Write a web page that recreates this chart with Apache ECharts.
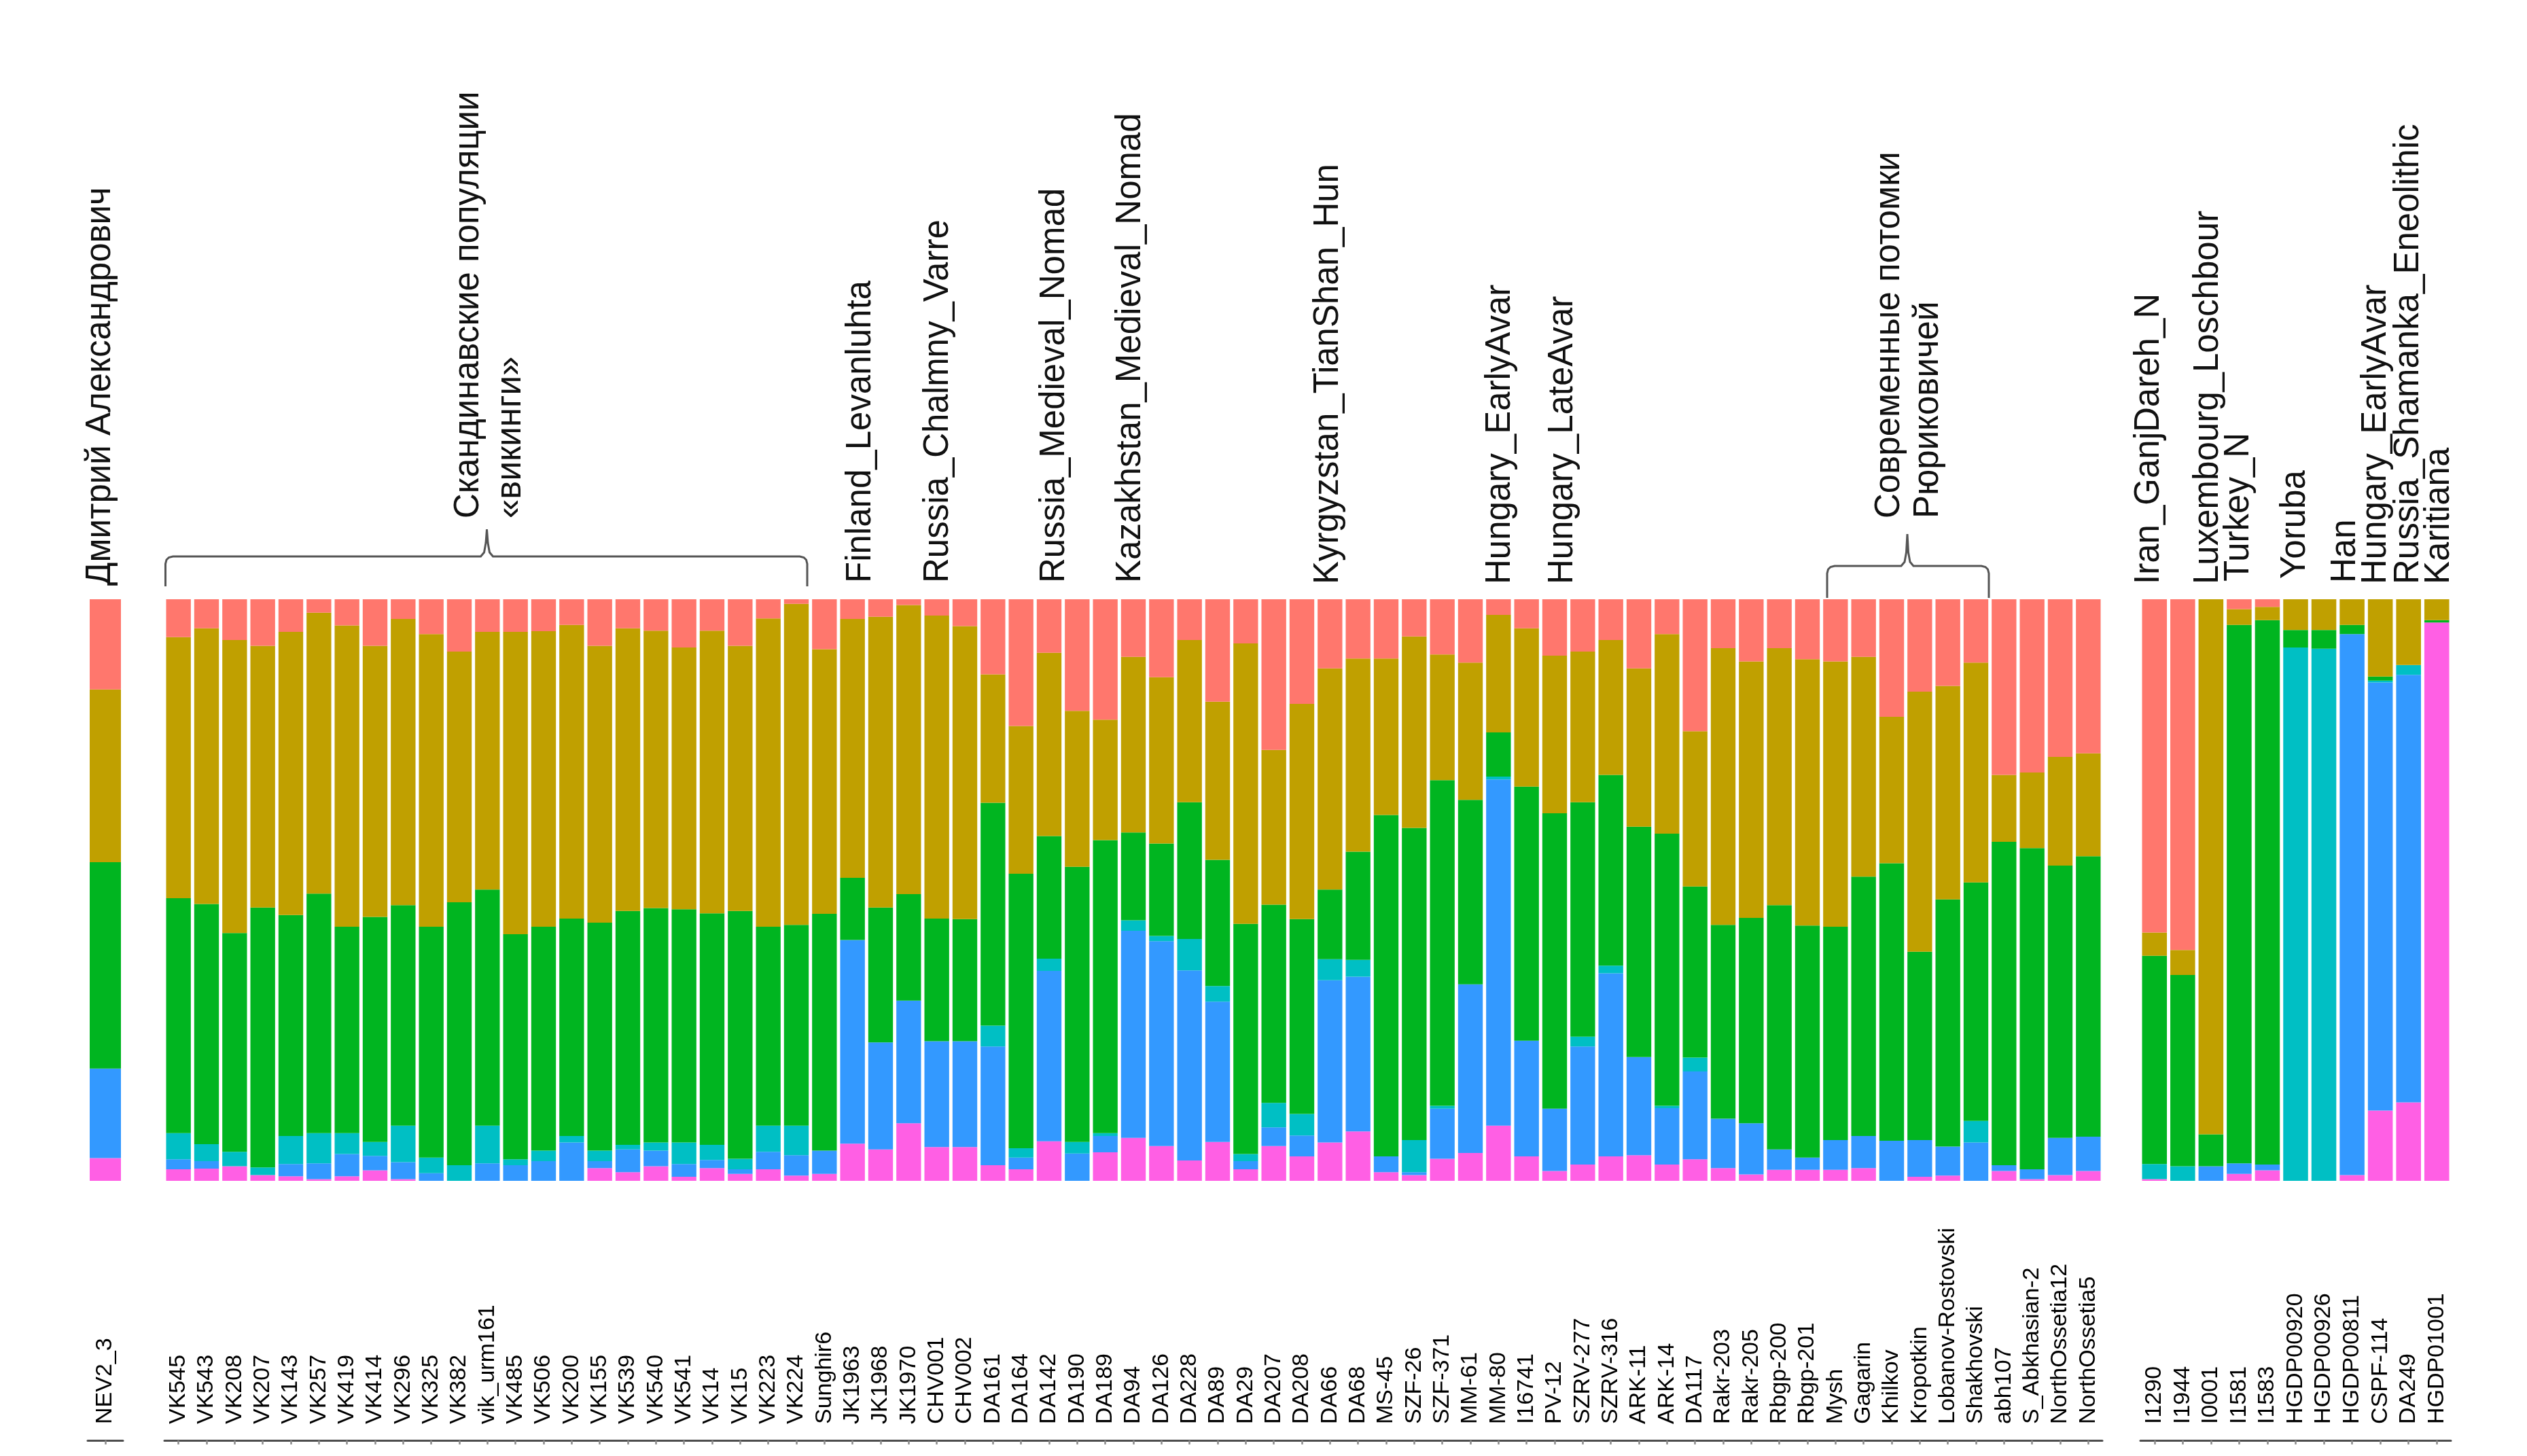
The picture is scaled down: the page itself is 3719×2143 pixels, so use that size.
<!DOCTYPE html>
<html><head><meta charset="utf-8">
<script src="https://cdn.jsdelivr.net/npm/echarts@6/dist/echarts.min.js"></script>
<style>html,body{margin:0;padding:0;background:#fff}#c{width:3719px;height:2143px}</style>
</head><body><div id="c"></div>
<script>
// ---- categories ----
var nevNames = ['NEV2_3'];
var mainNames = ['VK545','VK543','VK208','VK207','VK143','VK257','VK419','VK414','VK296','VK325','VK382','vik_urm161','VK485','VK506','VK200','VK155','VK539','VK540','VK541','VK14','VK15','VK223','VK224','Sunghir6','JK1963','JK1968','JK1970','CHV001','CHV002','DA161','DA164','DA142','DA190','DA189','DA94','DA126','DA228','DA89','DA29','DA207','DA208','DA66','DA68','MS-45','SZF-26','SZF-371','MM-61','MM-80','I16741','PV-12','SZRV-277','SZRV-316','ARK-11','ARK-14','DA117','Rakr-203','Rakr-205','Rbgp-200','Rbgp-201','Mysh','Gagarin','Khilkov','Kropotkin','Lobanov-Rostovski','Shakhovski','abh107','S_Abkhasian-2','NorthOssetia12','NorthOssetia5'];
var refNames = ['I1290','I1944','I0001','I1581','I1583','HGDP00920','HGDP00926','HGDP00811','CSPF-114','DA249','HGDP01001'];

// ---- component values (bottom to top: pink, blue, cyan, green, olive, salmon) ----
var nevPink = [0.039], nevBlue = [0.154], nevCyan = [0], nevGreen = [0.355], nevOlive = [0.297], nevSalmon = [0.155];

var mainPink = [.020,.021,.025,.010,.008,.003,.008,.018,.003,0,0,0,0,0,0,.022,.015,.025,.007,.022,.012,.020,.009,.012,.064,.054,.099,.058,.058,.027,.020,.068,0,.049,.074,.060,.035,.067,.020,.060,.042,.066,.085,.015,.010,.038,.048,.095,.042,.017,.028,.042,.044,.028,.037,.022,.011,.019,.019,.019,.022,0,.007,.009,0,.017,.003,.010,.017];
var mainBlue = [.017,.013,0,0,.021,.027,.038,.025,.029,.013,0,.030,.027,.034,.066,.012,.039,.027,.022,.014,.008,.030,.035,.040,.350,.184,.211,.182,.182,.204,.020,.293,.047,.028,.356,.352,.327,.241,.014,.032,.036,.279,.266,.027,.005,.086,.290,.595,.199,.107,.203,.315,.169,.097,.151,.085,.088,.035,.021,.051,.055,.069,.063,.050,.066,.010,.017,.064,.059];
var mainCyan = [.045,.029,.025,.013,.048,.052,.036,.024,.063,.027,.027,.065,.010,.018,.011,.018,.008,.014,.037,.026,.018,.045,.051,0,0,0,0,0,0,.036,.016,.021,.020,.005,.018,.009,.054,.027,.012,.042,.037,.036,.029,0,.055,.005,0,.005,0,0,.017,.013,0,.004,.024,0,0,0,0,0,0,0,0,0,.037,0,0,0,0];
var mainGreen = [.404,.413,.376,.447,.380,.412,.355,.387,.379,.397,.452,.406,.387,.385,.374,.392,.402,.403,.401,.398,.426,.342,.345,.407,.107,.232,.183,.211,.210,.383,.472,.211,.473,.504,.151,.159,.235,.217,.396,.341,.335,.120,.186,.587,.537,.560,.317,.076,.437,.508,.403,.328,.396,.468,.294,.333,.353,.420,.399,.367,.446,.477,.324,.425,.410,.556,.552,.468,.482];
var mainOlive = [.449,.474,.504,.450,.487,.483,.518,.466,.492,.503,.431,.443,.520,.508,.505,.476,.486,.477,.450,.486,.456,.530,.552,.455,.445,.500,.497,.521,.504,.221,.254,.315,.268,.207,.302,.286,.279,.272,.482,.266,.370,.380,.332,.269,.329,.216,.236,.202,.272,.271,.259,.232,.272,.343,.267,.476,.441,.442,.458,.456,.378,.252,.447,.367,.378,.115,.130,.187,.177];
var mainSalmon = [.065,.050,.070,.080,.056,.023,.045,.080,.034,.060,.090,.056,.056,.055,.044,.080,.050,.054,.083,.054,.080,.033,.008,.086,.034,.030,.010,.028,.046,.129,.218,.092,.192,.207,.099,.134,.070,.176,.076,.259,.180,.119,.102,.102,.064,.095,.109,.027,.050,.097,.090,.070,.119,.064,.227,.084,.107,.084,.103,.107,.099,.202,.159,.149,.109,.302,.298,.271,.265];

var refPink = [.003,0,0,.012,.018,0,0,.010,.121,.135,.960];
var refBlue = [0,0,.025,.018,.010,0,0,.930,.736,.735,0];
var refCyan = [.026,.025,0,0,0,.917,.915,0,.003,.017,0];
var refGreen = [.358,.329,.055,.926,.936,.030,.032,.016,.007,0,.004];
var refOlive = [.040,.043,.920,.027,.023,.053,.053,.044,.133,.113,.036];
var refSalmon = [.573,.603,0,.017,.013,0,0,0,0,0,0];

// ---- group labels (text, x, y of text start) ----
var groupLabels = [
  ['Дмитрий Александрович',148,862],
  ['Скандинавские популяции',690,763],
  ['«викинги»',752,763],
  ['Finland_Levanluhta',1267,858],
  ['Russia_Chalmny_Varre',1381,858],
  ['Russia_Medieval_Nomad',1552,858],
  ['Kazakhstan_Medieval_Nomad',1664,858],
  ['Kyrgyzstan_TianShan_Hun',1955,860],
  ['Hungary_EarlyAvar',2208,860],
  ['Hungary_LateAvar',2300,860],
  ['Современные потомки',2781,763],
  ['Рюриковичей',2838,763],
  ['Iran_GanjDareh_N',3163,860],
  ['Luxembourg_Loschbour',3250,860],
  ['Turkey_N',3295,856],
  ['Yoruba',3378,852],
  ['Han',3452,858],
  ['Hungary_EarlyAvar',3497,860],
  ['Russia_Shamanka_Eneolithic',3545,860],
  ['Karitiana',3590,860]
];

var colors = {pink:'#FF5FE4', blue:'#3399FF', cyan:'#00BFC4', green:'#00B520', olive:'#C0A000', salmon:'#FF776D'};

var chart = echarts.init(document.getElementById('c'), null, {renderer:'canvas'});

var TOP = 882, H = 856, OFFSET = 382;
var grids = [
  {left:129, top:TOP, width:52, height:H},
  {left:242, top:TOP, width:2852, height:H},
  {left:3150, top:TOP, width:457, height:H}
];
function xAx(i, names){
  return {
    type:'category', gridIndex:i, data:names, position:'bottom', offset:OFFSET,
    axisLine:{show:true, onZero:false, lineStyle:{color:'#4d4d4d', width:3}},
    axisTick:{show:true, alignWithLabel:true, length:6, lineStyle:{color:'#8a8a8a', width:2.5}},
    axisLabel:{show:true, inside:true, rotate:90, margin:24, interval:0, fontSize:34, fontFamily:'Liberation Sans', color:'#000'},
    splitLine:{show:false}
  };
}
function yAx(i){ return {type:'value', gridIndex:i, min:0, max:1, show:false}; }

var sets = [
  [nevPink,nevBlue,nevCyan,nevGreen,nevOlive,nevSalmon],
  [mainPink,mainBlue,mainCyan,mainGreen,mainOlive,mainSalmon],
  [refPink,refBlue,refCyan,refGreen,refOlive,refSalmon]
];
var keys = ['pink','blue','cyan','green','olive','salmon'];
var series = [];
sets.forEach(function(arrs, gi){
  arrs.forEach(function(arr, k){
    var s = {
      type:'bar', name:keys[k], xAxisIndex:gi, yAxisIndex:gi, stack:'g'+gi, data:arr,
      itemStyle:{color:colors[keys[k]]}, barCategoryGap:'12%', silent:true
    };
    if (gi === 0) s.barWidth = 46;
    series.push(s);
  });
});

var graphics = groupLabels.map(function(g){
  return {type:'text', x:g[1], y:g[2], rotation:Math.PI/2,
    style:{text:g[0], fontSize:51, fontFamily:'Liberation Sans', fill:'#111',
      align:'left', verticalAlign:'middle', textAlign:'left', textVerticalAlign:'middle'}};
});
function brace(x0, x1, xm, yb, yh, yt){
  return {type:'polyline', shape:{points:[
    [x0,yb],[x0,yh+11],[x0+1.5,yh+5],[x0+5,yh+1.5],[x0+11,yh],
    [xm-9,yh],[xm-4,yh-6],[xm-1.5,yh-20],[xm,yt],[xm+1.5,yh-20],[xm+4,yh-6],[xm+9,yh],
    [x1-11,yh],[x1-5,yh+1.5],[x1-1.5,yh+5],[x1,yh+11],[x1,yb]
  ]}, style:{fill:null, stroke:'#555', lineWidth:3}};
}
graphics.push(brace(243.5, 1188, 716.5, 863, 819, 779));
graphics.push(brace(2689, 2927, 2807, 880, 833, 786));

chart.setOption({
  animation:false,
  backgroundColor:'#fff',
  grid:grids,
  xAxis:[xAx(0,nevNames), xAx(1,mainNames), xAx(2,refNames)],
  yAxis:[yAx(0), yAx(1), yAx(2)],
  series:series,
  graphic:graphics
});
</script></body></html>
